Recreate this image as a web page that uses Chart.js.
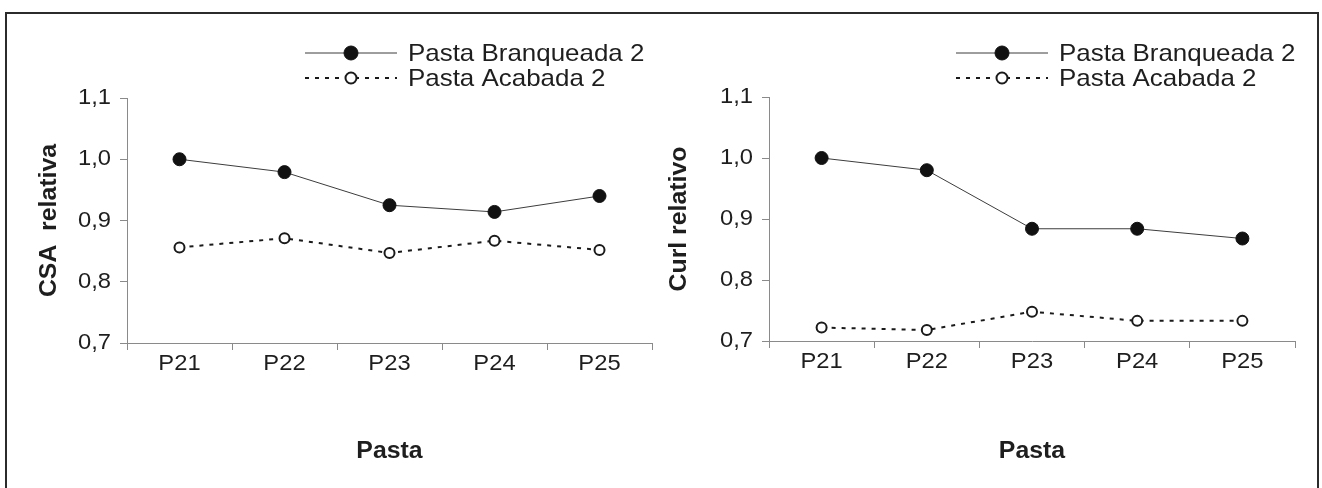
<!DOCTYPE html>
<html lang="pt">
<head>
<meta charset="utf-8">
<title>CSA e Curl relativos</title>
<script src="https://cdn.jsdelivr.net/npm/chart.js@4.4.1/dist/chart.umd.min.js"></script>
<style>
    body { margin: 0; width: 1322px; height: 488px; overflow: hidden; background: #fff; position: relative; }
    .frame { position: absolute; left: 5px; top: 12px; width: 1310px; height: 500px; border: 2px solid #2b2b2b; }
    canvas { position: absolute; top: 0; }
    #csaChart { left: 0; }
    #curlChart { left: 661px; }
</style>
</head>
<body>
<div class="frame"></div>
<canvas id="csaChart" width="661" height="488"></canvas>
<canvas id="curlChart" width="661" height="488"></canvas>

<script>
// --- data ---
const categories = ['P21', 'P22', 'P23', 'P24', 'P25'];
const seriesNames = ['Pasta Branqueada 2', 'Pasta Acabada 2'];
const yTicks = [0.7, 0.8, 0.9, 1.0, 1.1];

const csaBranqueada = [1.000, 0.979, 0.925, 0.914, 0.940];
const csaAcabada = [0.856, 0.871, 0.847, 0.867, 0.852];

const curlBranqueada = [1.000, 0.980, 0.884, 0.884, 0.868];
const curlAcabada = [0.722, 0.718, 0.748, 0.733, 0.733];

const FONT = '"Liberation Sans", Arial, sans-serif';
const TEXT = '#1e1e1e';
const AXIS = '#8a8a8a';
const STRETCH = 1.08;   // lettering in the original is a bit wider than Arial

// stretch every label horizontally (along its own direction), and tell the layout about it
function widenText(canvas) {
    const ctx = canvas.getContext('2d');
    const fill = ctx.fillText.bind(ctx);
    const measure = ctx.measureText.bind(ctx);
    ctx.fillText = (text, x, y) => {
        ctx.save();
        ctx.translate(x, y);
        ctx.scale(STRETCH, 1);
        fill(text, 0, 0);
        ctx.restore();
    };
    ctx.measureText = text => {
        const m = measure(text);
        return {
            width: m.width * STRETCH,
            actualBoundingBoxAscent: m.actualBoundingBoxAscent,
            actualBoundingBoxDescent: m.actualBoundingBoxDescent,
            actualBoundingBoxLeft: m.actualBoundingBoxLeft * STRETCH,
            actualBoundingBoxRight: m.actualBoundingBoxRight * STRETCH
        };
    };
    return canvas;
}

// Excel-like legend: line sample with marker in the middle, one row per series
const lineLegend = {
    id: 'lineLegend',
    afterDraw(chart, args, opts) {
        const { ctx } = chart;
        ctx.save();
        ctx.font = `24px ${FONT}`;
        ctx.textBaseline = 'middle';
        ctx.textAlign = 'left';
        chart.data.datasets.forEach((ds, i) => {
            const y = opts.top + i * opts.rowHeight;
            const x0 = opts.left;
            const x1 = x0 + opts.sampleWidth;
            ctx.strokeStyle = ds.borderColor;
            ctx.lineWidth = ds.borderWidth;
            ctx.setLineDash(ds.borderDash || []);
            ctx.beginPath();
            ctx.moveTo(x0, y);
            ctx.lineTo(x1, y);
            ctx.stroke();
            ctx.setLineDash([]);
            ctx.beginPath();
            ctx.arc((x0 + x1) / 2, y, ds.pointRadius + 0.5, 0, Math.PI * 2);
            ctx.fillStyle = ds.pointBackgroundColor;
            ctx.fill();
            ctx.lineWidth = ds.pointBorderWidth;
            ctx.strokeStyle = ds.pointBorderColor;
            ctx.stroke();
            ctx.fillStyle = TEXT;
            ctx.fillText(ds.label, x1 + opts.gap, y + 1);
        });
        ctx.restore();
    }
};

function makeDatasets(solid, dotted) {
    return [
        {
            label: seriesNames[0],
            data: solid,
            borderColor: '#3c3c3c',
            borderWidth: 1,
            pointRadius: 6.5,
            pointBorderWidth: 1,
            pointBackgroundColor: '#111',
            pointBorderColor: '#111'
        },
        {
            label: seriesNames[1],
            data: dotted,
            borderColor: '#1a1a1a',
            borderWidth: 2,
            borderDash: [4, 6],
            pointRadius: 5,
            pointBorderWidth: 2,
            pointBackgroundColor: '#fff',
            pointBorderColor: '#1a1a1a'
        }
    ];
}

function makeChart(canvasId, yTitle, solid, dotted, box) {
    return new Chart(widenText(document.getElementById(canvasId)), {
        type: 'line',
        data: { labels: categories, datasets: makeDatasets(solid, dotted) },
        plugins: [lineLegend],
        options: {
            responsive: false,
            animation: false,
            events: [],
            layout: { padding: { top: box.top, left: box.left, right: box.right, bottom: 10 } },
            plugins: {
                legend: { display: false },
                tooltip: { enabled: false },
                lineLegend: { left: box.legendX, top: 53, rowHeight: 25, sampleWidth: 92, gap: 11 }
            },
            scales: {
                x: {
                    offset: true,
                    afterFit: s => { s.height = box.xHeight; },
                    grid: { offset: true, drawOnChartArea: false, tickLength: 7, tickColor: AXIS },
                    border: { color: AXIS, width: 1 },
                    ticks: { color: TEXT, font: { family: FONT, size: 22 }, padding: 1, maxRotation: 0 },
                    title: {
                        display: true, text: 'Pasta', color: TEXT,
                        font: { family: FONT, size: 23, weight: 'bold' },
                        padding: { top: 0, bottom: 13 }
                    }
                },
                y: {
                    min: 0.7,
                    max: 1.1,
                    afterBuildTicks: s => { s.ticks = yTicks.map(v => ({ value: v })); },
                    afterFit: s => { s.width = box.yWidth; },
                    grid: { drawOnChartArea: false, tickLength: 7, tickColor: AXIS },
                    border: { color: AXIS, width: 1 },
                    ticks: {
                        color: TEXT, font: { family: FONT, size: 22 }, padding: 9,
                        callback: v => v.toFixed(1).replace('.', ',')
                    },
                    title: {
                        display: true, text: yTitle, color: TEXT,
                        font: { family: FONT, size: 23, weight: 'bold' },
                        padding: { top: box.titlePad, bottom: 0 }
                    }
                }
            }
        }
    });
}

makeChart('csaChart', 'CSA  relativa', csaBranqueada, csaAcabada,
    { top: 98, left: 10, right: 9, yWidth: 117, xHeight: 135, titlePad: 26, legendX: 305 });

makeChart('curlChart', 'Curl relativo', curlBranqueada, curlAcabada,
    { top: 97, left: 5, right: 27, yWidth: 103, xHeight: 137, titlePad: 0, legendX: 295 });
</script>
</body>
</html>
